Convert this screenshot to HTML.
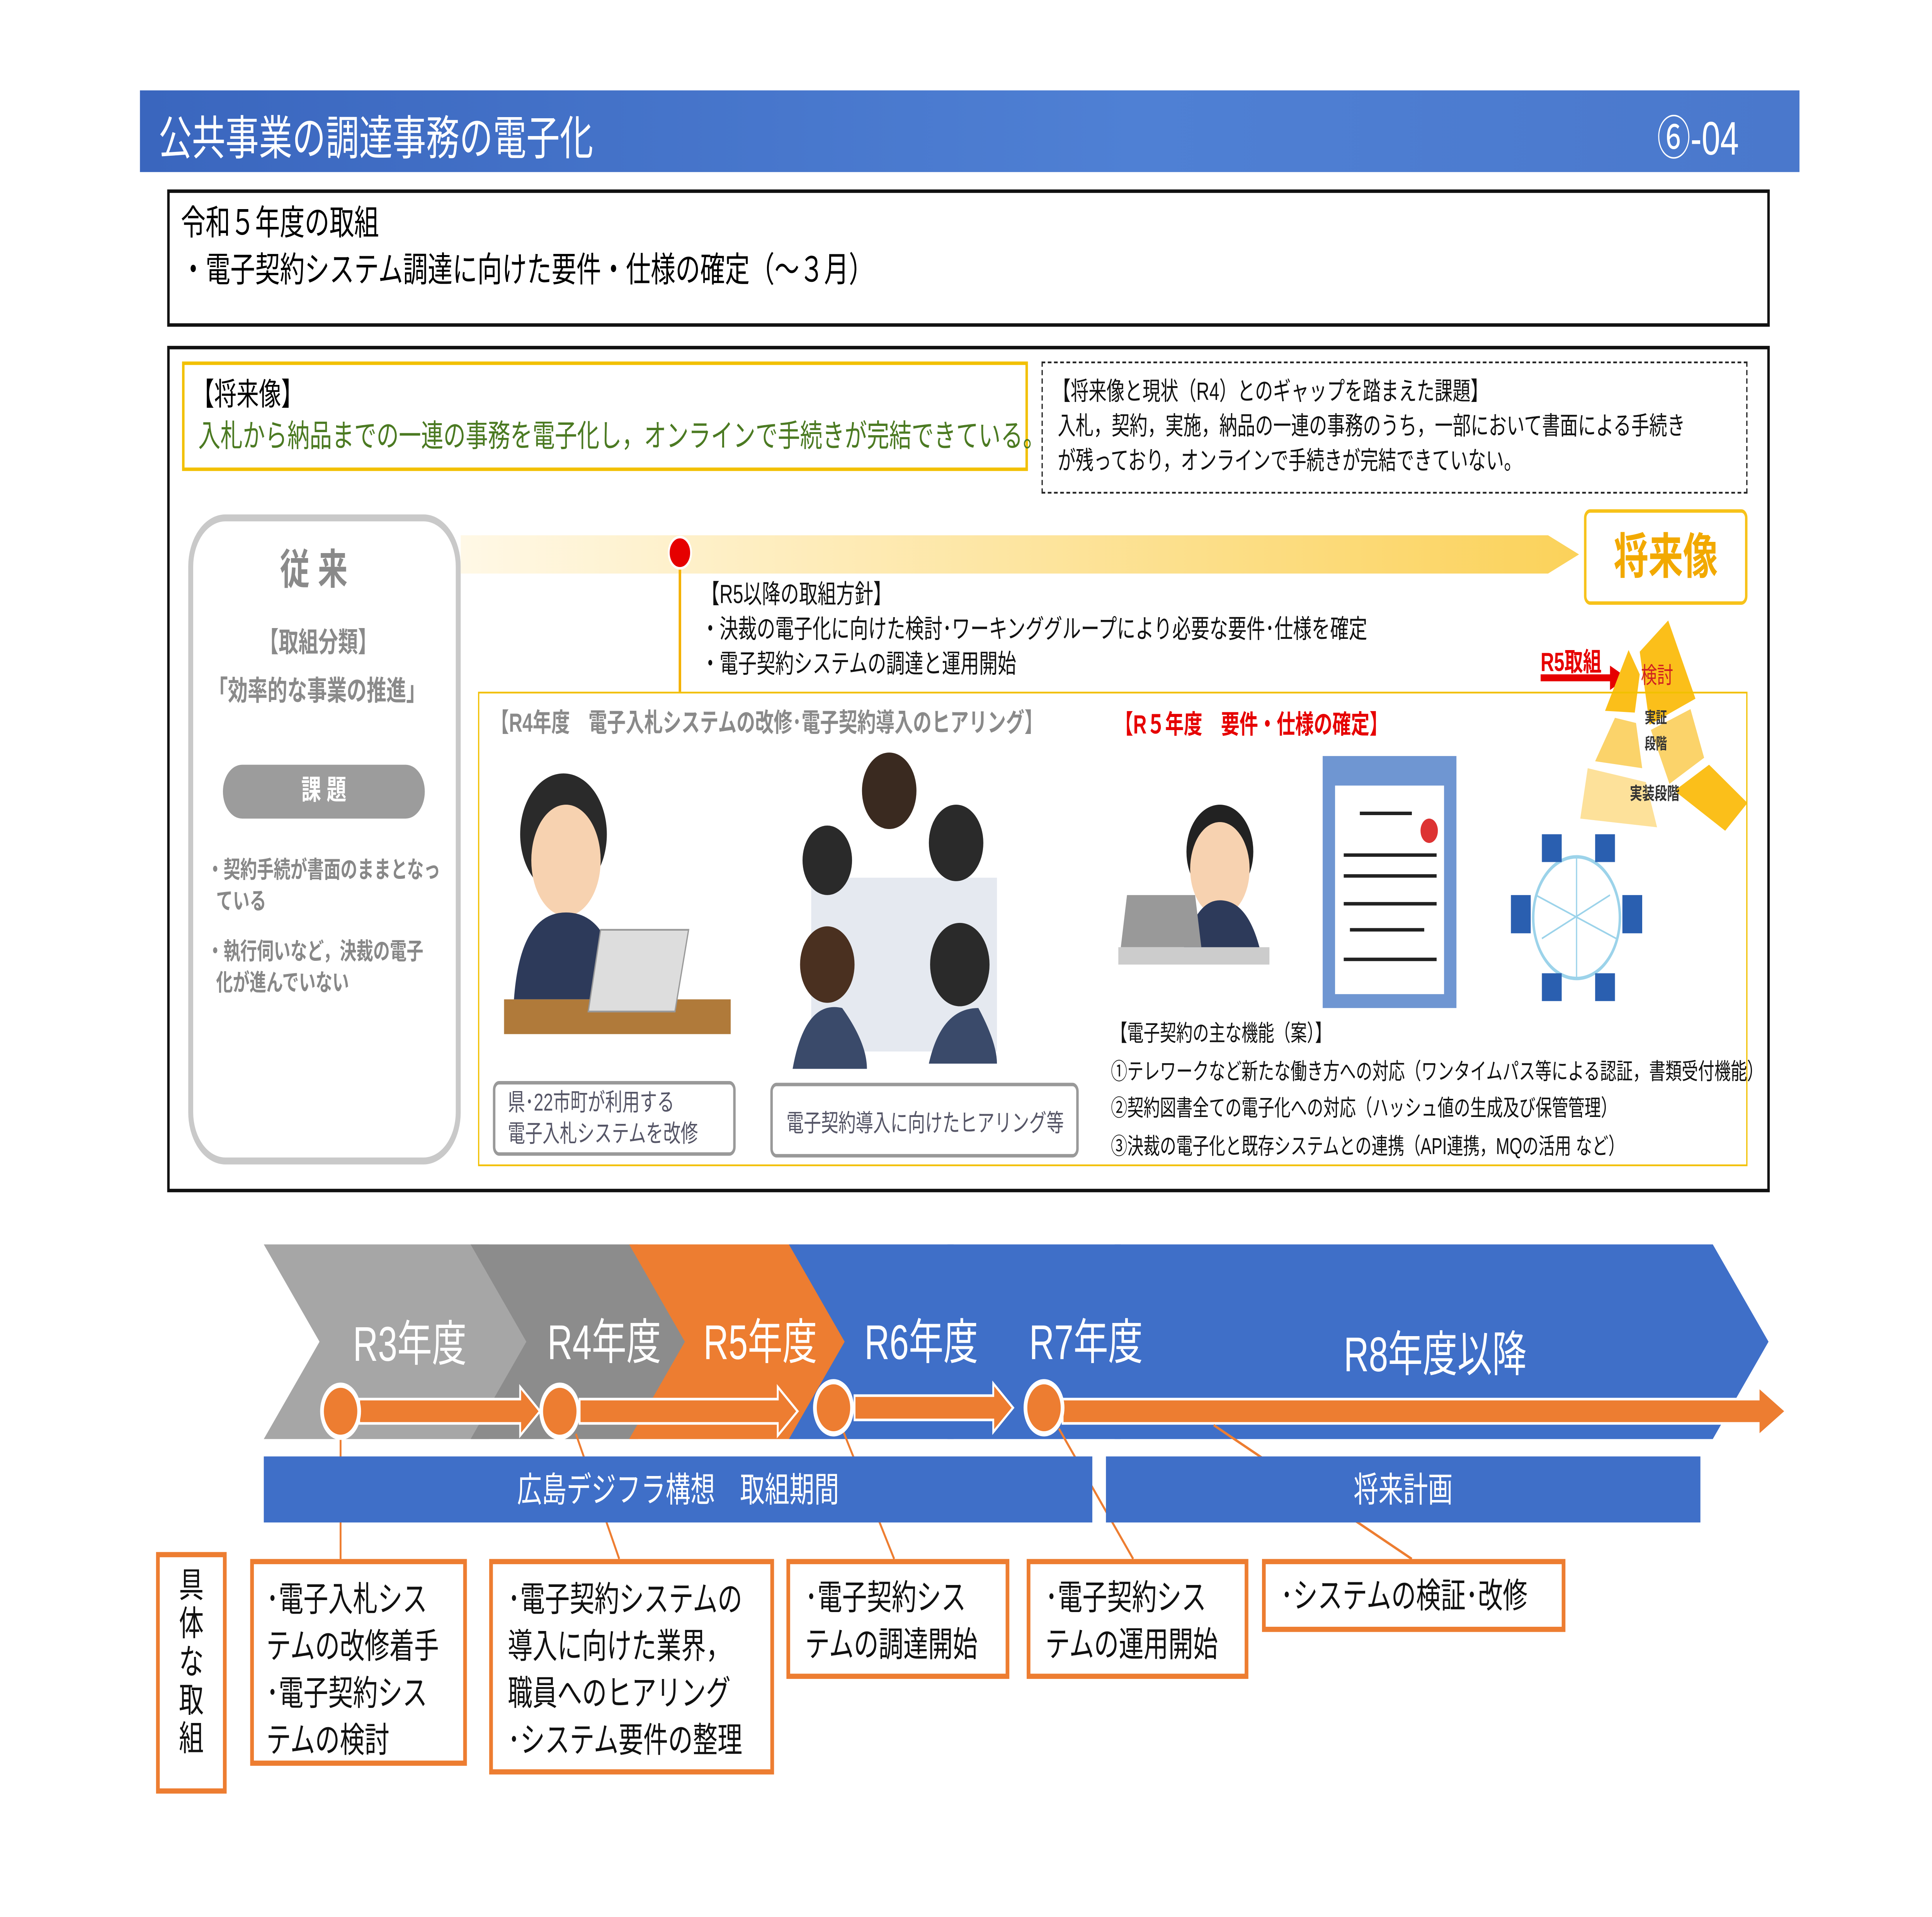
<!DOCTYPE html>
<html><head><meta charset="utf-8"><style>
html,body{margin:0;padding:0;background:#fff;width:100vw;height:100vh;overflow:hidden;}
#root{position:fixed;left:0;top:0;width:100vw;height:100vh;display:block;}
#s{position:relative;width:1560px;height:1103px;font-family:"Liberation Sans","Noto Sans CJK JP",sans-serif;overflow:hidden;background:#fff;}
.a{position:absolute;white-space:nowrap;}
</style></head><body>
<svg id="root" viewBox="0 0 1560 1103" preserveAspectRatio="none" xmlns="http://www.w3.org/2000/svg">
<foreignObject x="0" y="0" width="1560" height="1103">
<div xmlns="http://www.w3.org/1999/xhtml" id="s">
<div class="a" style="left:113px;top:52px;width:1340px;height:47px;background:linear-gradient(90deg,#3a66be,#4f80d4 60%,#4a78cc);"></div>
<div class="a" style="left:128px;top:58px;font-size:27px;color:#fff;">公共事業の調達事務の電子化</div>
<div class="a" style="left:1338px;top:58px;font-size:27px;color:#fff;">⑥-04</div>
<div class="a" style="left:135px;top:109px;width:1290px;height:75px;border:2px solid #111;"></div>
<div class="a" style="left:146px;top:116px;font-size:20px;color:#000;line-height:27px;">令和５年度の取組<br/>・電子契約システム調達に向けた要件・仕様の確定（～３月）</div>
<div class="a" style="left:135px;top:199px;width:1290px;height:483px;border:2px solid #111;"></div>
<div class="a" style="left:147px;top:208px;width:679px;height:59px;border:2px solid #f2c000;"></div>
<div class="a" style="left:155px;top:215px;font-size:18px;line-height:24px;color:#000;">【将来像】<br/><span style="color:#4b7a22;">&#160;入札から納品までの一連の事務を電子化し，オンラインで手続きが完結できている。</span></div>
<div class="a" style="left:841px;top:208px;width:568px;height:74px;border:1.5px dashed #222;"></div>
<div class="a" style="left:850px;top:216px;font-size:14.5px;line-height:20px;color:#111;">【将来像と現状（R4）とのギャップを踏まえた課題】<br/>&#160;入札，契約，実施，納品の一連の事務のうち，一部において書面による手続き<br/>&#160;が残っており，オンラインで手続きが完結できていない。</div>
<div class="a" style="left:152px;top:296px;width:212px;height:366px;border:4px solid #c9c9c9;border-radius:30px;"></div>
<div class="a" style="left:226px;top:308px;font-size:24px;font-weight:bold;color:#8a8a8a;">従 来</div>
<div class="a" style="left:209px;top:356px;font-size:16px;font-weight:bold;color:#8a8a8a;">【取組分類】</div>
<div class="a" style="left:168px;top:384px;font-size:16px;font-weight:bold;color:#8a8a8a;">「効率的な事業の推進」</div>
<div class="a" style="left:180px;top:440px;width:163px;height:31px;border-radius:16px;background:#9c9c9c;color:#fff;font-size:16px;font-weight:bold;text-align:center;line-height:31px;">課 題</div>
<div class="a" style="left:167px;top:492px;font-size:13.5px;font-weight:bold;color:#888;line-height:18px;">・契約手続が書面のままとなっ<br/>&#160;&#160;ている<div style="height:11px"></div>・執行伺いなど，決裁の電子<br/>&#160;&#160;化が進んでいない</div>
<svg class="a" style="left:0;top:0;" width="1560" height="1103" xmlns="http://www.w3.org/2000/svg">
<defs><linearGradient id="g1" x1="0" x2="1"><stop offset="0" stop-color="#fff8e6"/><stop offset="1" stop-color="#fbd25a"/></linearGradient></defs>
<polygon points="372,308 1250,308 1275,319 1250,330 372,330" fill="url(#g1)"/>
<line x1="549" y1="325" x2="549" y2="398" stroke="#f4b000" stroke-width="2"/>
<circle cx="549" cy="318" r="9" fill="#e60000" stroke="#fff" stroke-width="1.5"/>
<rect x="1244" y="388" width="58" height="4" fill="#e60000"/><polygon points="1300,383 1314,390 1300,397" fill="#e60000"/>
<polygon points="1315,374 1324,388 1320,410 1296,409" fill="#fbbf1a"/>
<polygon points="1324,375 1347,357 1369,402 1332,417" fill="#fbbf1a"/>
<polygon points="1304,413 1321,416 1326,442 1288,438" fill="#fbd36a"/>
<polygon points="1333,420 1365,408 1376,436 1348,451" fill="#fbd36a"/>
<polygon points="1282,442 1329,450 1338,476 1276,471" fill="#fde19a"/>
<polygon points="1352,455 1380,440 1411,462 1393,478" fill="#fbbf1a"/>
<polygon points="213,716 395,716 440,772 395,828 213,828 258,772" fill="#a6a6a6"/>
<polygon points="380,716 515,716 560,772 515,828 380,828 425,772" fill="#8c8c8c"/>
<polygon points="508,716 645,716 690,772 645,828 508,828 553,772" fill="#ed7d31"/>
<polygon points="637,716 770,716 815,772 770,828 637,828 682,772" fill="#3f6fc8"/>
<polygon points="765,716 905,716 950,772 905,828 765,828 810,772" fill="#3f6fc8"/>
<polygon points="900,716 1383,716 1428,772 1383,828 900,828 945,772" fill="#3f6fc8"/>
<g fill="#fff" font-size="28" font-family="Liberation Sans,Noto Sans CJK JP,sans-serif">
<text x="285" y="783">R3年度</text><text x="442" y="782">R4年度</text><text x="568" y="782">R5年度</text><text x="698" y="782">R6年度</text><text x="831" y="782">R7年度</text><text x="1085" y="789">R8年度以降</text></g>
<g fill="#ed7d31" stroke="#fff" stroke-width="1.5">
<polygon points="290,805 420,805 420,798 436,812 420,826 420,819 290,819"/>
<polygon points="468,805 628,805 628,798 644,812 628,826 628,819 468,819"/>
<polygon points="690,803 802,803 802,796 818,810 802,824 802,817 690,817"/>
<polygon points="858,805 1420,805 1420,798 1442,812 1420,826 1420,819 858,819"/>
</g>
<g stroke="#ed7d31" stroke-width="1.5" fill="none">
<line x1="275" y1="825" x2="275" y2="897"/><line x1="465" y1="825" x2="500" y2="897"/>
<line x1="680" y1="822" x2="722" y2="897"/><line x1="855" y1="822" x2="915" y2="897"/><line x1="980" y1="820" x2="1140" y2="897"/></g>
<g fill="#ed7d31" stroke="#fff" stroke-width="3">
<circle cx="275" cy="812" r="15"/><circle cx="452" cy="812" r="15"/><circle cx="673" cy="810" r="15"/><circle cx="843" cy="810" r="15"/></g>
<g>
<rect x="407" y="575" width="183" height="20" fill="#b07a3a"/>
<circle cx="455" cy="480" r="35" fill="#2a2a2a"/><ellipse cx="457" cy="495" rx="28" ry="32" fill="#f7d2b0"/>
<path d="M415,575 Q420,525 457,525 Q495,525 500,575Z" fill="#2d3a5a"/>
<polygon points="485,535 556,535 545,582 475,582" fill="#ddd" stroke="#999"/>
<rect x="655" y="505" width="150" height="100" fill="#e5e9f0"/>
<circle cx="718" cy="455" r="22" fill="#3a2a20"/><circle cx="668" cy="495" r="20" fill="#2a2a2a"/><circle cx="772" cy="485" r="22" fill="#2a2a2a"/><circle cx="668" cy="555" r="22" fill="#4a3020"/><circle cx="775" cy="555" r="24" fill="#2a2a2a"/>
<path d="M640,615 Q650,575 680,580 Q700,600 700,615Z" fill="#3a4a6a"/><path d="M750,612 Q760,580 790,580 Q805,600 805,612Z" fill="#3a4a6a"/>
<circle cx="985" cy="490" r="27" fill="#222"/><ellipse cx="985" cy="500" rx="24" ry="27" fill="#f7d2b0"/>
<path d="M955,548 Q965,518 985,518 Q1008,518 1018,548Z" fill="#2d3a5a"/>
<polygon points="910,515 965,515 970,545 905,545" fill="#999"/><rect x="903" y="545" width="122" height="10" fill="#ccc"/>
<rect x="1068" y="435" width="108" height="145" fill="#6f96d2"/><rect x="1078" y="452" width="88" height="120" fill="#fff"/>
<g stroke="#222" stroke-width="2"><line x1="1098" y1="468" x2="1140" y2="468"/><line x1="1085" y1="492" x2="1160" y2="492"/><line x1="1085" y1="504" x2="1160" y2="504"/><line x1="1085" y1="520" x2="1160" y2="520"/><line x1="1090" y1="535" x2="1150" y2="535"/><line x1="1085" y1="552" x2="1160" y2="552"/></g>
<circle cx="1154" cy="478" r="7" fill="#d33"/>
<circle cx="1273" cy="528" r="35" fill="none" stroke="#9cd3ea" stroke-width="2"/><path d="M1240,515 L1305,540 M1245,540 L1300,515 M1273,493 L1273,563" stroke="#9cd3ea"/>
<g fill="#2a5fb0"><rect x="1220" y="515" width="16" height="22"/><rect x="1310" y="515" width="16" height="22"/><rect x="1245" y="480" width="16" height="16"/><rect x="1288" y="480" width="16" height="16"/><rect x="1245" y="560" width="16" height="16"/><rect x="1288" y="560" width="16" height="16"/></g>
</g>
</svg>
<div class="a" style="left:1279px;top:293px;width:128px;height:51px;border:2px solid #f7c21a;border-radius:5px;color:#f2a900;font-size:28px;font-weight:bold;text-align:center;line-height:51px;">将来像</div>
<div class="a" style="left:566px;top:333px;font-size:15px;line-height:20px;color:#111;">【R5以降の取組方針】<br/>・決裁の電子化に向けた検討･ワーキンググループにより必要な要件･仕様を確定<br/>・電子契約システムの調達と運用開始</div>
<div class="a" style="left:386px;top:398px;width:1023px;height:271px;border:1.5px solid #f2c000;"></div>
<div class="a" style="left:396px;top:405px;font-size:15px;font-weight:bold;color:#8a8a8a;">【R4年度　電子入札システムの改修･電子契約導入のヒアリング】</div>
<div class="a" style="left:900px;top:406px;font-size:15px;font-weight:bold;color:#e60000;">【R５年度　要件・仕様の確定】</div>
<div class="a" style="left:1244px;top:370px;font-size:15px;font-weight:bold;color:#e60000;">R5取組</div>
<div class="a" style="left:1325px;top:378px;font-size:13px;color:#d02020;">検討</div>
<div class="a" style="left:1328px;top:406px;font-size:9px;font-weight:bold;color:#333;line-height:15px;">実証<br/>段階</div>
<div class="a" style="left:1316px;top:448px;font-size:10px;font-weight:bold;color:#333;">実装段階</div>
<div class="a" style="left:398px;top:622px;width:192px;height:39px;border:2px solid #999;border-radius:5px;"></div>
<div class="a" style="left:410px;top:625px;font-size:14px;line-height:18px;color:#556;">県･22市町が利用する<br/>電子入札システムを改修</div>
<div class="a" style="left:622px;top:623px;width:245px;height:39px;border:2px solid #999;border-radius:5px;"></div>
<div class="a" style="left:635px;top:636px;font-size:14px;color:#556;">電子契約導入に向けたヒアリング等</div>
<div class="a" style="left:897px;top:584px;font-size:13.2px;line-height:21.5px;color:#111;">【電子契約の主な機能（案）】<br/>①テレワークなど新たな働き方への対応（ワンタイムパス等による認証，書類受付機能）<br/>②契約図書全ての電子化への対応（ハッシュ値の生成及び保管管理）<br/>③決裁の電子化と既存システムとの連携（API連携，MQの活用 など）</div>
<div class="a" style="left:213px;top:838px;width:669px;height:38px;background:#3f6fc8;color:#fff;font-size:20px;text-align:center;line-height:40px;">広島デジフラ構想　取組期間</div>
<div class="a" style="left:893px;top:838px;width:480px;height:38px;background:#3f6fc8;color:#fff;font-size:20px;text-align:center;line-height:40px;">将来計画</div>
<div class="a" style="left:126px;top:893px;width:51px;height:127px;border:3px solid #ed7d31;font-size:20px;line-height:22px;text-align:center;padding-top:6px;color:#111;">具<br/>体<br/>な<br/>取<br/>組</div>
<div class="a" style="left:202px;top:897px;width:175px;height:119px;border:3px solid #ed7d31;font-size:20px;line-height:27px;padding:8px 0 0 10px;box-sizing:border-box;color:#111;">･電子入札シス<br/>テムの改修着手<br/>･電子契約シス<br/>テムの検討</div>
<div class="a" style="left:395px;top:897px;width:230px;height:124px;border:3px solid #ed7d31;font-size:20px;line-height:27px;padding:8px 0 0 12px;box-sizing:border-box;color:#111;">･電子契約システムの<br/>導入に向けた業界，<br/>職員へのヒアリング<br/>･システム要件の整理</div>
<div class="a" style="left:635px;top:897px;width:180px;height:69px;border:3px solid #ed7d31;font-size:20px;line-height:27px;padding:7px 0 0 12px;box-sizing:border-box;color:#111;">･電子契約シス<br/>テムの調達開始</div>
<div class="a" style="left:829px;top:897px;width:179px;height:69px;border:3px solid #ed7d31;font-size:20px;line-height:27px;padding:7px 0 0 12px;box-sizing:border-box;color:#111;">･電子契約シス<br/>テムの運用開始</div>
<div class="a" style="left:1019px;top:897px;width:245px;height:42px;border:3px solid #ed7d31;font-size:20px;line-height:27px;padding:6px 0 0 12px;box-sizing:border-box;color:#111;">･システムの検証･改修</div>
</div>
</foreignObject>
</svg>
</body></html>
